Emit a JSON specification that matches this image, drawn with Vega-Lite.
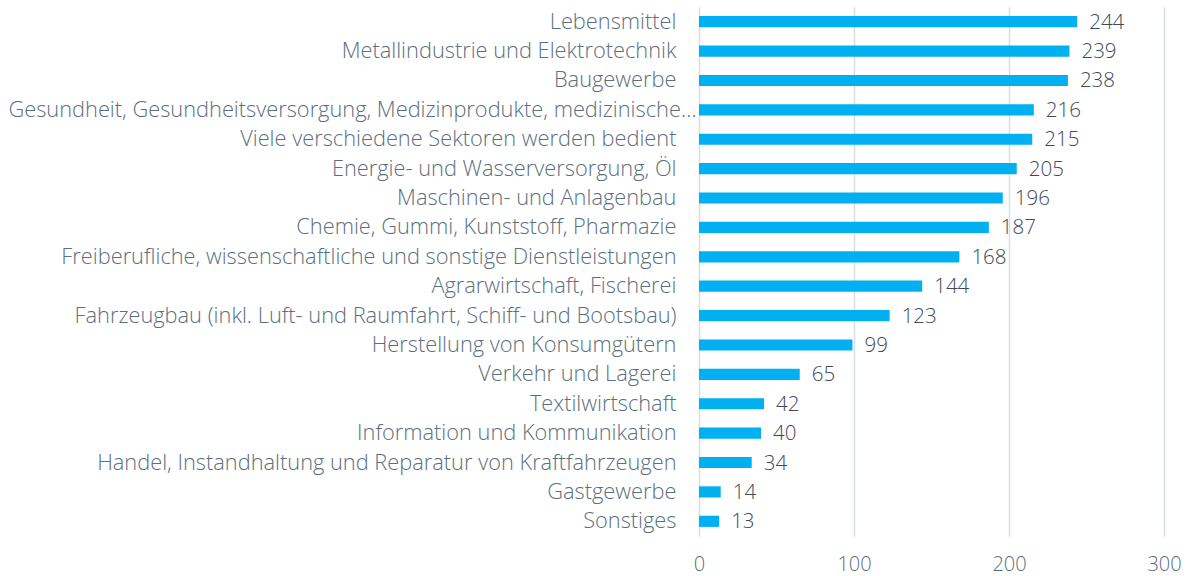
{
  "$schema": "https://vega.github.io/schema/vega-lite/v6.json",
  "width": 465,
  "height": 529,
  "autosize": {"type": "none"},
  "padding": {"left": 699, "top": 7, "right": 22, "bottom": 40},
  "background": "white",
  "config": {
    "view": {"stroke": null},
    "font": "Open Sans"
  },
  "data": {
    "values": [
      {"sektor": "Lebensmittel", "wert": 244},
      {"sektor": "Metallindustrie und Elektrotechnik", "wert": 239},
      {"sektor": "Baugewerbe", "wert": 238},
      {"sektor": "Gesundheit, Gesundheitsversorgung, Medizinprodukte, medizinische…", "wert": 216},
      {"sektor": "Viele verschiedene Sektoren werden bedient ", "wert": 215},
      {"sektor": "Energie- und Wasserversorgung, Öl", "wert": 205},
      {"sektor": "Maschinen- und Anlagenbau", "wert": 196},
      {"sektor": "Chemie, Gummi, Kunststoff, Pharmazie", "wert": 187},
      {"sektor": "Freiberufliche, wissenschaftliche und sonstige Dienstleistungen", "wert": 168},
      {"sektor": "Agrarwirtschaft, Fischerei", "wert": 144},
      {"sektor": "Fahrzeugbau (inkl. Luft- und Raumfahrt, Schiff- und Bootsbau)", "wert": 123},
      {"sektor": "Herstellung von Konsumgütern", "wert": 99},
      {"sektor": "Verkehr und Lagerei", "wert": 65},
      {"sektor": "Textilwirtschaft", "wert": 42},
      {"sektor": "Information und Kommunikation", "wert": 40},
      {"sektor": "Handel, Instandhaltung und Reparatur von Kraftfahrzeugen", "wert": 34},
      {"sektor": "Gastgewerbe", "wert": 14},
      {"sektor": "Sonstiges", "wert": 13}
    ]
  },
  "encoding": {
    "y": {
      "field": "sektor",
      "type": "nominal",
      "sort": null,
      "scale": {"paddingInner": 0.62, "paddingOuter": 0.31},
      "axis": {
        "title": null,
        "ticks": false,
        "domain": false,
        "labelFontSize": 21.8,
        "labelFontWeight": 300,
        "labelColor": "#5b6f7d",
        "labelPadding": {"condition": {"test": "indexof(datum.label, 'Gesundheit,') === 0", "value": 3}, "value": 23},
        "labelLimit": 720
      }
    },
    "x": {
      "field": "wert",
      "type": "quantitative",
      "scale": {"domain": [0, 300]},
      "axis": {
        "title": null,
        "values": [0, 100, 200, 300],
        "ticks": false,
        "domain": false,
        "grid": true,
        "gridColor": "#d6dee3",
        "gridWidth": 1.5,
        "labelFontSize": 20,
        "labelFontWeight": 300,
        "labelColor": "#5b6f7d",
        "labelPadding": 18,
        "labelFlush": false
      }
    }
  },
  "layer": [
    {"mark": {"type": "bar", "color": "#00b0f0"}},
    {
      "mark": {"type": "text", "align": "left", "baseline": "middle", "dx": 12, "dy": 1, "fontSize": 20.5, "fontWeight": 300, "color": "#3e4a55"},
      "encoding": {"text": {"field": "wert", "type": "quantitative"}}
    }
  ]
}
